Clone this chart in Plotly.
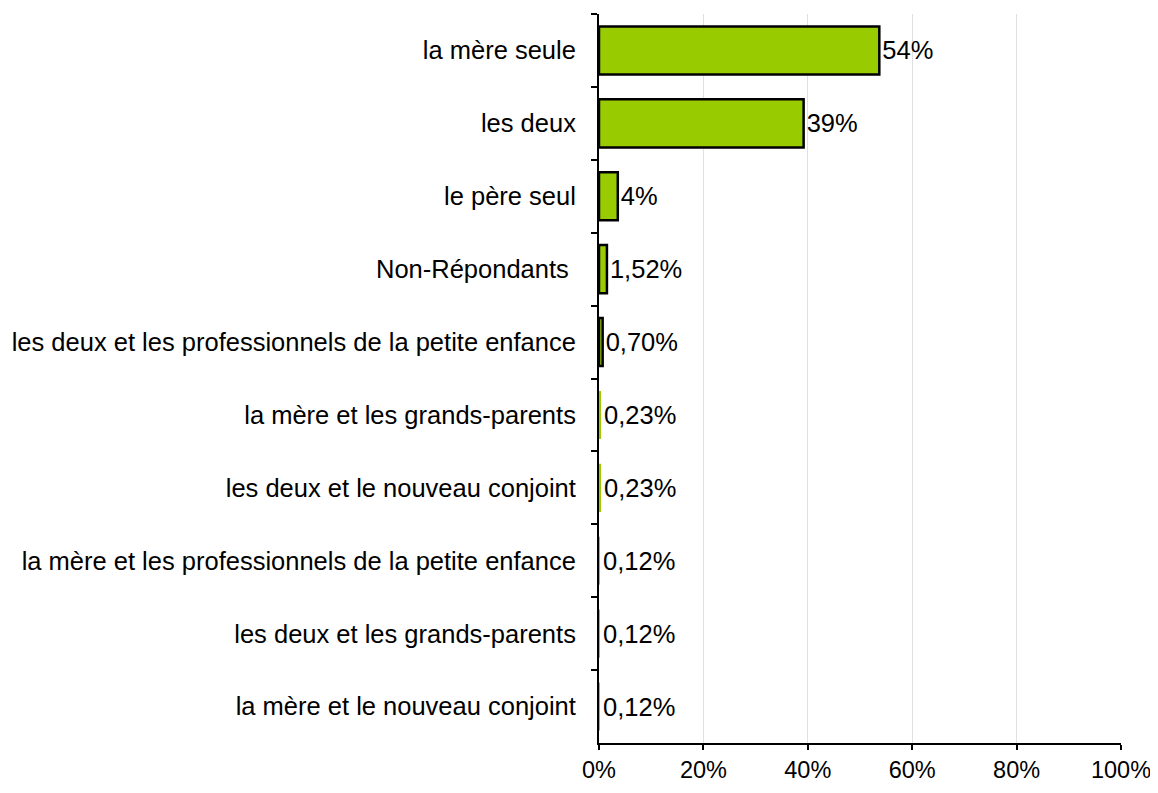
import plotly.graph_objects as go

categories = [
    "la mère seule",
    "les deux",
    "le père seul",
    "Non-Répondants\u00a0",
    "les deux et les professionnels de la petite enfance",
    "la mère et les grands-parents",
    "les deux et le nouveau conjoint",
    "la mère et les professionnels de la petite enfance",
    "les deux et les grands-parents",
    "la mère et le nouveau conjoint",
]
values = [53.7, 39.2, 3.6, 1.52, 0.70, 0.23, 0.23, 0.12, 0.12, 0.12]
value_labels = ["54%", "39%", "4%", "1,52%", "0,70%", "0,23%", "0,23%", "0,12%", "0,12%", "0,12%"]
x_ticks = [0, 20, 40, 60, 80, 100]
x_tick_labels = ["0%", "20%", "40%", "60%", "80%", "100%"]

font_family = "Liberation Sans, Arial, sans-serif"
fsize = 25.5

# outlines of the tiniest bars vanish into the axis in the reference
outline_widths = [2.5, 2.5, 2.5, 2.5, 2.5, 0, 0, 0, 0, 0]

fig = go.Figure(
    go.Bar(
        x=values,
        y=categories,
        orientation="h",
        text=value_labels,
        textposition="outside",
        textfont=dict(family=font_family, size=fsize, color="black"),
        marker=dict(color="#99CC00", line=dict(color="black", width=outline_widths)),
        cliponaxis=False,
    )
)

fig.update_layout(
    width=1142,
    height=777,
    margin=dict(l=591, r=29, t=6, b=42),
    paper_bgcolor="white",
    plot_bgcolor="white",
    bargap=0.34,
    showlegend=False,
    font=dict(family=font_family, size=fsize, color="black"),
)

fig.update_xaxes(
    range=[0, 100],
    tickvals=x_ticks,
    ticktext=x_tick_labels,
    showgrid=True,
    gridcolor="#e0e0e0",
    gridwidth=1,
    showline=True,
    linecolor="black",
    linewidth=2,
    ticks="outside",
    ticklen=5,
    tickcolor="black",
    tickwidth=1.5,
    tickfont=dict(family=font_family, size=23.5, color="black"),
    ticklabeloverflow="allow",
    zeroline=False,
    fixedrange=True,
    automargin=False,
)

fig.update_yaxes(
    autorange="reversed",
    showline=True,
    linecolor="black",
    linewidth=2,
    ticks="outside",
    tickson="boundaries",
    ticklen=6,
    tickcolor="black",
    tickwidth=1.5,
    ticklabelstandoff=16,
    tickfont=dict(family=font_family, size=fsize, color="black"),
    showgrid=False,
    fixedrange=True,
    automargin=False,
)

fig.write_html("out.html")
